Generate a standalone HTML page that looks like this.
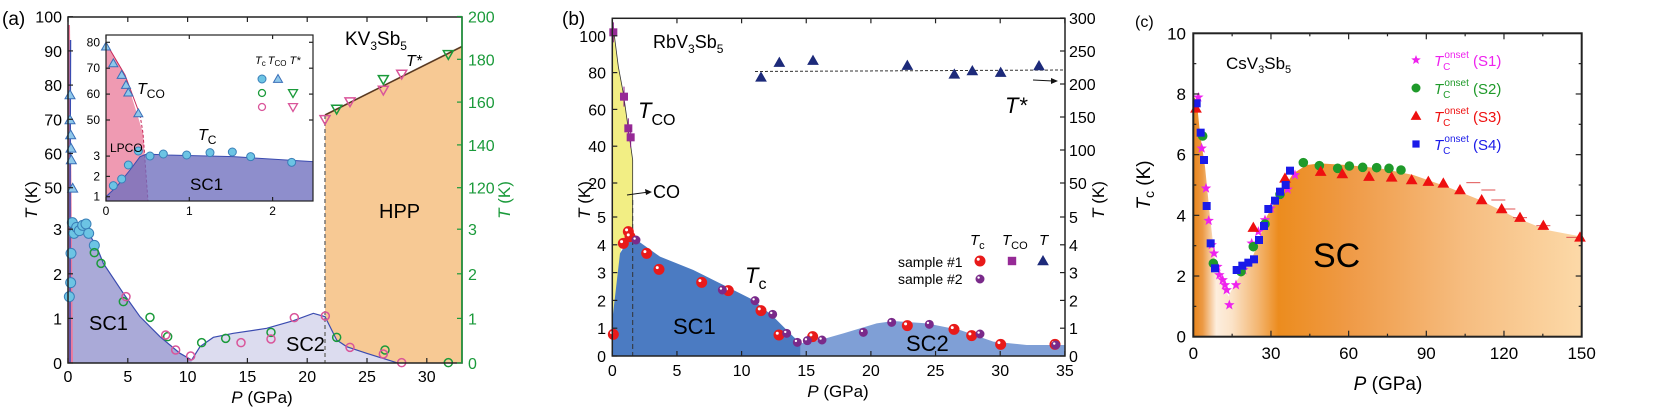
<!DOCTYPE html>
<html><head><meta charset="utf-8"><style>
html,body{margin:0;padding:0;background:#fff;width:1660px;height:410px;overflow:hidden}
svg text{font-family:"Liberation Sans",sans-serif}
</style></head><body>
<svg id="s" width="1660" height="410" xmlns="http://www.w3.org/2000/svg">
<defs>
<linearGradient id="gc" x1="1193" x2="1582" y1="0" y2="0" gradientUnits="userSpaceOnUse">
<stop offset="0" stop-color="#e8841a"/><stop offset="0.025" stop-color="#ec9a45"/>
<stop offset="0.06" stop-color="#fdeede"/><stop offset="0.1" stop-color="#fbe3c8"/>
<stop offset="0.17" stop-color="#f3b46e"/><stop offset="0.22" stop-color="#ec8c1e"/>
<stop offset="0.4" stop-color="#ef9a46"/><stop offset="0.7" stop-color="#f6bd80"/>
<stop offset="1" stop-color="#fcd9a8"/></linearGradient>
</defs>
<g id="g"></g>
</svg>
<script>
var G=document.getElementById('g'),h='';
function add(s){h+=s;}
function T(x,y,t,o){o=o||{};add('<text x="'+x+'" y="'+y+'" font-size="'+(o.s||15)+'" fill="'+(o.c||'#000')+'" text-anchor="'+(o.a||'start')+'"'+(o.i?' font-style="italic"':'')+'>'+t+'</text>');}
function P(pts,f,st,extra){add('<polygon points="'+pts.map(p=>p.join(',')).join(' ')+'" fill="'+f+'" stroke="'+(st||'none')+'" '+(extra||'')+'/>');}
function L(pts,st,w,extra){add('<polyline points="'+pts.map(p=>p.join(',')).join(' ')+'" fill="none" stroke="'+st+'" stroke-width="'+(w||1)+'" '+(extra||'')+'/>');}
function Z(arr,ox){return arr.map(p=>[ox+p[0]/3,p[1]/3]);}
function circ(x,y,r,f,st,w){add('<circle cx="'+x+'" cy="'+y+'" r="'+r+'" fill="'+f+'" stroke="'+st+'" stroke-width="'+(w||1)+'"/>');}
function tri(x,y,r,f,st,down,w){var d=down?-1:1;P([[x,y-r*d],[x-r,y+r*0.75*d],[x+r,y+r*0.75*d]],f,st,'stroke-width="'+(w||1)+'"');}
function sq(x,y,r,f){add('<rect x="'+(x-r)+'" y="'+(y-r)+'" width="'+2*r+'" height="'+2*r+'" fill="'+f+'"/>');}
function star(x,y,r,f){var p=[];for(var i=0;i<10;i++){var a=-Math.PI/2+i*Math.PI/5,rr=i%2?r*0.42:r;p.push([x+rr*Math.cos(a),y+rr*Math.sin(a)]);}P(p,f);}
function sphere(x,y,r,c){circ(x,y,r,c,c);circ(x-r*0.35,y-r*0.35,r*0.3,'#fff','none');}
function frame(x0,y0,x1,y1,w){add('<rect x="'+x0+'" y="'+y0+'" width="'+(x1-x0)+'" height="'+(y1-y0)+'" fill="none" stroke="#222" stroke-width="'+(w||1.5)+'"/>');}
function tk(x,y,dx,dy,c){L([[x,y],[x+dx,y+dy]],c||'#222',1.2);}

/* ============ Panel (a) ============ */
var ax=x=>68+x*11.96, ayl=v=>363-v*44.6, ayu=v=>187.7-(v-50)*3.42;
P([[325,363],[325,115],[462,46.5],[462,363]],'#f7c994');
P(Z([[575,1088],[575,1080],[600,1040],[640,1012],[700,1000],[800,985],[880,962],[940,940],[975,950],[990,980],[1010,1020],[1040,1040],[1100,1060],[1190,1088]],0),'#dcdcef');
P(Z([[203,1088],[205,950],[208,760],[215,700],[260,690],[290,740],[310,790],[370,880],[420,950],[480,1010],[540,1060],[575,1080],[575,1088]],0),'#aaaad8');
L(Z([[205,950],[208,760],[215,700],[260,690],[290,740],[310,790],[370,880],[420,950],[480,1010],[540,1060],[575,1080],[600,1040],[640,1012],[700,1000],[800,985],[880,962],[940,940],[975,950],[990,980],[1010,1020],[1040,1040],[1100,1060],[1190,1088]],0),'#3a4bb0',1.2);
P([[68,363],[68,25],[70,25],[73,363]],'#ec7a9c');
L([[70,363],[70,190],[70.5,40]],'#3a4bb0',1.5);
L([[325,115],[325,363]],'#777',1.5,'stroke-dasharray="4,3"');
L([[325,115],[462,46.5]],'#5a3a22',1.6);
Z([[208,890],[212,848],[213,760],[217,668],[222,700],[230,682],[238,692],[248,676],[258,672],[266,700],[283,736]],0).forEach(p=>circ(p[0],p[1],5,'#6cc4e4','#3a7fb8'));
Z([[283,758],[303,790],[370,905],[450,952],[503,1010],[605,1028],[677,1015],[813,997],[1010,1012],[1155,1050],[1345,1088]],0).forEach(p=>circ(p[0],p[1],4,'none','#1a9a3a',1.5));
Z([[378,890],[497,1005],[527,1050],[572,1068],[723,1028],[813,1017],[883,953],[976,948],[1050,1042],[1150,1062],[1205,1088]],0).forEach(p=>circ(p[0],p[1],4,'none','#d9559a',1.5));
Z([[210,285],[210,360],[212,405],[213,445],[214,480],[218,565]],0).forEach(p=>tri(p[0],p[1],5,'#8fc8ea','#3a6fb8'));
Z([[975,358],[1050,305],[1150,270],[1205,222]],0).forEach(p=>tri(p[0],p[1],5,'none','#d9559a',true,1.5));
Z([[1010,327],[1150,238],[1345,163]],0).forEach(p=>tri(p[0],p[1],5,'none','#1a9a3a',true,1.5));
frame(68,17,462,363);
for(var v=0;v<=30;v+=5){tk(ax(v),363,0,-5);tk(ax(v),17,0,5);T(ax(v),382,v,{a:'middle',s:16});}
for(var v=0;v<=3;v++){tk(68,ayl(v),5,0);tk(462,ayl(v),-5,0,'#1a9a3a');T(62,ayl(v)+6,v,{a:'end',s:16});T(468,ayl(v)+6,v,{c:'#1a9a3a',s:16});}
for(var v=50;v<=100;v+=10){tk(68,ayu(v),5,0);T(62,ayu(v)+6,v,{a:'end',s:16});}
for(var v=120;v<=200;v+=20){var y=187.7-(v-120)*2.14;tk(462,y,-5,0,'#1a9a3a');T(468,y+6,v,{c:'#1a9a3a',s:16});}
L([[462,17],[462,363]],'#1a9a3a',1.5);
T(2,25,'(a)',{s:19});
add('<text x="37" y="200" font-size="17" transform="rotate(-90 37 200)" text-anchor="middle"><tspan font-style="italic">T</tspan> (K)</text>');
add('<text x="510" y="200" font-size="17" fill="#1a9a3a" transform="rotate(-90 510 200)" text-anchor="middle"><tspan font-style="italic">T</tspan> (K)</text>');
add('<text x="262" y="403" font-size="17" text-anchor="middle"><tspan font-style="italic">P</tspan> (GPa)</text>');
T(89,330,'SC1',{s:20});T(286,351,'SC2',{s:20});T(379,218,'HPP',{s:20});
add('<text x="345" y="45" font-size="19" font-family="Liberation Serif,serif">KV<tspan font-size="12" dy="5">3</tspan><tspan dy="-5">Sb</tspan><tspan font-size="12" dy="5">5</tspan></text>');
T(406,66,'T*',{s:16,i:1});
// inset
add('<rect x="106" y="35" width="207" height="166" fill="#fff"/>');
P([[106,43],[125,75],[143,133],[148,201],[106,201]],'#ef9ab2');
L([[106,43],[125,75],[140,115]],'#c8285a',1);L([[140,115],[143,133],[148,201]],'#c8285a',1,'stroke-dasharray="3,2"');
P(Z([[318,603],[318,590],[350,560],[390,510],[420,470],[440,462],[500,465],[700,470],[938,485],[938,603]],0),'rgba(110,110,190,0.78)');
L(Z([[318,590],[350,560],[390,510],[420,470],[440,462],[500,465],[700,470],[938,485]],0),'#3a4bb0',1);
Z([[318,140],[340,190],[365,225],[378,255],[385,278],[415,340]],0).forEach(p=>tri(p[0],p[1],4.5,'#8fc8ea','#3a6fb8'));
Z([[340,557],[365,537],[385,495],[415,453],[450,468],[490,462],[560,465],[630,458],[697,456],[752,470],[875,487]],0).forEach(p=>circ(p[0],p[1],4,'#6cc4e4','#3a7fb8'));
frame(106,35,313,201,1.2);
[0,1,2].forEach(v=>{var x=106+v*83.3;tk(x,201,0,-4);tk(x,35,0,4);T(x,215,v,{a:'middle',s:12});});
[1,2,3].forEach(v=>{var y=196.7-(v-1)*20.3;tk(106,y,4,0);T(100,y+4,v,{a:'end',s:12});});
[50,60,70,80].forEach(v=>{var y=120-(v-50)*2.59;tk(106,y,4,0);tk(313,y,-4,0);T(100,y+4,v,{a:'end',s:12});});
T(110,152,'LPCO',{s:12});
add('<text x="137" y="94" font-size="16"><tspan font-style="italic">T</tspan><tspan font-size="12" dy="4">CO</tspan></text>');
add('<text x="198" y="140" font-size="16"><tspan font-style="italic">T</tspan><tspan font-size="12" dy="4">C</tspan></text>');
T(190,190,'SC1',{s:17});
add('<text x="255" y="64" font-size="11"><tspan font-style="italic">T</tspan><tspan font-size="8" dy="2">c</tspan><tspan dy="-2" dx="2" font-style="italic">T</tspan><tspan font-size="8" dy="2">CO</tspan><tspan dy="-2" dx="3" font-style="italic">T*</tspan></text>');
circ(262,79,4,'#6cc4e4','#3a7fb8');tri(278,79,4.5,'#8fc8ea','#3a6fb8');
circ(262,93,3.5,'none','#1a9a3a',1.3);tri(293,93,4.5,'none','#1a9a3a',true,1.3);
circ(262,107,3.5,'none','#d9559a',1.3);tri(293,107,4.5,'none','#d9559a',true,1.3);

/* ============ Panel (b) ============ */
var bx=x=>612.3+x*12.93;
P(Z([[157,60],[175,200],[190,280],[218,480],[218,690],[185,730],[165,900],[157,1000]],560),'#f2ee84');
L(Z([[157,60],[175,200],[190,280],[218,480],[218,690]],560),'#333',0.8);
P(Z([[157,1068],[157,960],[180,760],[205,720],[230,720],[300,770],[400,810],[500,860],[580,900],[640,950],[700,1010],[722,1030],[722,1068]],560),'#4b7bc2');
P(Z([[722,1068],[722,1030],[780,1020],[850,1000],[950,970],[1000,963],[1100,970],[1200,990],[1300,1025],[1400,1035],[1515,1035],[1515,1068]],560),'#7f9fd6');
L([[632.7,200],[632.7,356]],'#333',1,'stroke-dasharray="5,3"');
L([[755,71.5],[1063,70]],'#333',1,'stroke-dasharray="3,2"');
Z([[603,232],[658,188],[759,182],[1042,197],[1183,223],[1237,213],[1322,218],[1437,198]],560).forEach(p=>tri(p[0],p[1],5,'#1d2a7a','#1d2a7a'));
Z([[160,97],[192,290],[205,385],[212,412]],560).forEach(p=>{L([[p[0],p[1]-10],[p[0],p[1]+10]],'#8a1f8a',1);sq(p[0],p[1],4,'#962a96');});
Z([[160,1003],[190,730],[205,695],[210,710],[260,760],[297,808],[425,847],[505,872],[603,932],[657,1005],[758,1010],[1042,977],[1182,988],[1235,1007],[1322,1033],[1485,1033]],560).forEach(p=>sphere(p[0],p[1],5,'#e81a1a'));
Z([[228,720],[487,870],[585,902],[638,943],[680,1000],[712,1027],[742,1022],[786,1020],[910,997],[995,967],[1108,973],[1260,1002],[1487,1035]],560).forEach(p=>sphere(p[0],p[1],4,'#7a2a8a'));
frame(612.3,18.3,1065,356);
for(var v=0;v<=35;v+=5){tk(bx(v),356,0,-5);tk(bx(v),18.3,0,5);T(bx(v),376,v,{a:'middle',s:16});}
for(var v=0;v<=5;v++){var y=356-v*27.8;tk(612.3,y,5,0);tk(1065,y,-5,0);T(606,y+6,v,{a:'end',s:16});T(1069,y+6,v,{s:16});}
[20,40,60,80,100].forEach(v=>{var y=183-(v-20)*1.84;tk(612.3,y,5,0);T(606,y+6,v,{a:'end',s:16});});
[50,100,150,200,250,300].forEach(v=>{var y=183-(v-50)*0.66;tk(1065,y,-5,0);T(1069,y+6,v,{s:16});});
T(562,25,'(b)',{s:19});
add('<text x="590" y="200" font-size="17" transform="rotate(-90 590 200)" text-anchor="middle"><tspan font-style="italic">T</tspan> (K)</text>');
add('<text x="1104" y="200" font-size="17" transform="rotate(-90 1104 200)" text-anchor="middle"><tspan font-style="italic">T</tspan> (K)</text>');
add('<text x="838" y="397" font-size="17" text-anchor="middle"><tspan font-style="italic">P</tspan> (GPa)</text>');
add('<text x="653" y="48" font-size="18">RbV<tspan font-size="12" dy="5">3</tspan><tspan dy="-5">Sb</tspan><tspan font-size="12" dy="5">5</tspan></text>');
add('<text x="638" y="118" font-size="22"><tspan font-style="italic">T</tspan><tspan font-size="16" dy="7">CO</tspan></text>');
L([[627,195],[649,192]],'#111',1);P([[652,192],[645,189],[646,195]],'#111');T(653,198,'CO',{s:18});
add('<text x="745" y="283" font-size="22"><tspan font-style="italic">T</tspan><tspan font-size="16" dy="6">c</tspan></text>');
T(673,334,'SC1',{s:22});T(906,351,'SC2',{s:22});
T(1005,113,'T*',{s:22,i:1});
L([[1033,80],[1053,81]],'#111',1);P([[1058,81],[1051,78],[1051,84]],'#111');
add('<text x="970" y="245" font-size="15"><tspan font-style="italic">T</tspan><tspan font-size="11" dy="4">c</tspan></text>');
add('<text x="1002" y="245" font-size="15"><tspan font-style="italic">T</tspan><tspan font-size="11" dy="4">CO</tspan></text>');
T(1039,245,'T',{s:15,i:1});
T(898,267,'sample #1',{s:14});T(898,284,'sample #2',{s:14});
sphere(980,261,5,'#e81a1a');sq(1012,261,4.2,'#962a96');tri(1043,261,5,'#1d2a7a','#1d2a7a');sphere(980,279,4,'#7a2a8a');

/* ============ Panel (c) ============ */
var cx=x=>1193.3+x*2.589, cy=v=>336.7-v*30.34;
var curve=[[340,290],[350,300],[360,400],[375,500],[390,650],[405,780],[425,830],[445,890],[460,860],[490,810],[510,790],[530,740],[560,650],[600,580],[640,520],[680,495],[720,490],[800,495],[900,505],[1000,525],[1100,560],[1200,600],[1300,650],[1400,690],[1505,710]];
P(Z([[340,1010]].concat(curve,[[1505,1010]]),1080),'url(#gc)');
Z([[1180,548],[1225,570],[1255,600],[1285,627],[1320,653],[1390,677],[1480,712]],1080).forEach(p=>L([[p[0]-7,p[1]],[p[0]+7,p[1]]],'#e05050',1));
Z([[355,292],[365,445],[378,565],[386,662],[395,735],[402,760],[412,800],[418,825],[428,840],[435,855],[440,870],[448,915],[468,855],[490,810],[515,730],[535,695],[555,660],[572,625],[600,585],[623,568],[645,525]],1080).forEach(p=>star(p[0],p[1],5.5,'#ee22ee'));
Z([[368,408],[400,790],[483,815],[520,740],[555,672],[600,583],[670,488],[718,497],[773,505],[808,498],[848,502],[890,503],[927,505],[963,510]],1080).forEach(p=>circ(p[0],p[1],4.3,'#1f9a2a','#1f9a2a'));
Z([[348,325],[520,683],[615,535],[722,515],[787,522],[867,530],[935,532],[995,540],[1045,545],[1090,550],[1140,570],[1205,600],[1265,627],[1320,653],[1390,677],[1500,712]],1080).forEach(p=>tri(p[0],p[1],5,'#ee1010','#ee1010'));
Z([[350,310],[362,398],[372,480],[380,618],[392,730],[405,805],[470,810],[487,797],[505,788],[522,778],[537,720],[552,678],[565,627],[585,602],[600,575],[617,555],[630,512]],1080).forEach(p=>sq(p[0],p[1],4,'#1a1ae8'));
frame(1193.3,33.3,1581.7,336.7,2);
for(var v=0;v<=150;v+=30){tk(cx(v),336.7,0,-6);tk(cx(v),33.3,0,6);T(cx(v),359,v,{a:'middle',s:17});}
for(var v=15;v<150;v+=30){tk(cx(v),336.7,0,-3);tk(cx(v),33.3,0,3);}
for(var v=0;v<=10;v+=2){tk(1193.3,cy(v),6,0);tk(1581.7,cy(v),-6,0);T(1186,cy(v)+6,v,{a:'end',s:17});}
for(var v=1;v<10;v+=2){tk(1193.3,cy(v),3,0);tk(1581.7,cy(v),-3,0);}
T(1135,27,'(c)',{s:16});
add('<text x="1150" y="185" font-size="19" transform="rotate(-90 1150 185)" text-anchor="middle"><tspan font-style="italic">T</tspan><tspan font-size="14" dy="4">c</tspan><tspan dy="-4"> (K)</tspan></text>');
add('<text x="1388" y="390" font-size="19" text-anchor="middle"><tspan font-style="italic">P</tspan> (GPa)</text>');
add('<text x="1226" y="69" font-size="17">CsV<tspan font-size="11" dy="4">3</tspan><tspan dy="-4">Sb</tspan><tspan font-size="11" dy="4">5</tspan></text>');
T(1313,267,'SC',{s:34});
var leg=[['S1','#ee22ee'],['S2','#1f9a2a'],['S3','#ee1010'],['S4','#1a1ae8']];
leg.forEach((l,i)=>{var y=60+i*28;
 if(i==0)star(1416,y,5,l[1]);else if(i==1)circ(1416,y,4,l[1],l[1]);else if(i==2)tri(1416,y,4.5,l[1],l[1]);else sq(1416,y,3.6,l[1]);
 add('<text x="1434" y="'+(y+6)+'" font-size="15" fill="'+l[1]+'"><tspan font-style="italic">T</tspan><tspan font-size="10" dy="4">C</tspan><tspan font-size="10" dy="-12" dx="-6">onset</tspan><tspan dy="8"> ('+l[0]+')</tspan></text>');});
G.innerHTML=h;
</script>
</body></html>
